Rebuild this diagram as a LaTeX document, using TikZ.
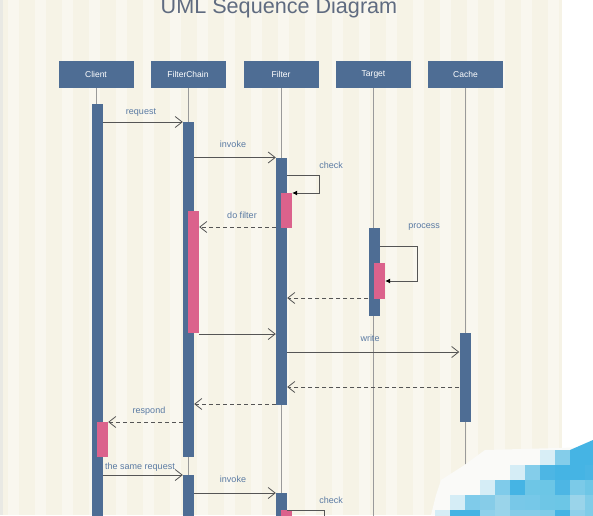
\documentclass[tikz,border=0pt]{standalone}
\usepackage{fontspec}
\setmainfont{Liberation Sans}
\usetikzlibrary{arrows.meta}
\definecolor{bgcream}{HTML}{F6F3E6}
\definecolor{bgstripe}{HTML}{F9F7EF}
\definecolor{bgedge}{HTML}{E9E9E4}
\definecolor{hdrblue}{HTML}{4E6D94}
\definecolor{actpink}{HTML}{DB628C}
\definecolor{lblblue}{HTML}{5A7AA3}
\definecolor{titlegray}{HTML}{5F6B80}
\definecolor{linegray}{HTML}{555555}
\definecolor{lifegray}{HTML}{9A9A9A}
\definecolor{wmwhite}{HTML}{FAFAF8}
\definecolor{wmblue}{HTML}{45B4E4}
\begin{document}
\begin{tikzpicture}[x=1pt,y=-1pt,
  hdr/.style={rectangle, fill=hdrblue, draw=none, minimum width=75pt, minimum height=27pt, inner sep=0pt, text=white, font=\fontsize{8.5}{10}\selectfont},
  actbar/.style={rectangle, fill=hdrblue, draw=none, minimum width=11pt, inner sep=0pt, anchor=north},
  actpinkbar/.style={rectangle, fill=actpink, draw=none, minimum width=11pt, inner sep=0pt, anchor=north},
  life/.style={draw=lifegray, line width=0.8pt},
  msg/.style={draw=linegray, line width=0.8pt, -{Straight Barb[length=7pt,width=11pt,line width=0.8pt]}},
  ret/.style={msg, dash pattern=on 4pt off 3pt},
  selfmsg/.style={draw=linegray, line width=0.8pt, -{Latex[length=5pt,width=5pt,fill=black,color=black]}},
  lbl/.style={text=lblblue, font=\fontsize{9}{10}\selectfont, inner sep=0pt, anchor=base},
]
\useasboundingbox (0,0) rectangle (593,515);
\begin{scope}
\clip (0,0) rectangle (593,515);
% background
\fill[white] (0,0) rectangle (593,515);
\fill[bgcream] (0,0) rectangle (562,515);
\foreach \i in {0,...,20} {
  \fill[bgstripe] (\i*27+8,0) rectangle ++(11,515);
}
\fill[bgedge] (0,0) rectangle (3,515);

% title
\node[text=titlegray, font=\fontsize{21.6}{24}\selectfont, anchor=base, inner sep=0pt] (title) at (279,13) {UML Sequence Diagram};

% header boxes
\node[hdr] (hcl) at (96,74.5) {Client};
\node[hdr] (hfc) at (188,74.5) {FilterChain};
\node[hdr] (hf)  at (281,74.5) {Filter};
\node[hdr] (ht)  at (373.5,74.5) {Target};
\node[hdr] (hc)  at (465.5,74.5) {Cache};

% lifelines
\draw[life] (hcl.south) -- (hcl.south |- 0,520);
\draw[life] (hfc.south) -- (hfc.south |- 0,520);
\draw[life] (hf.south)  -- (hf.south |- 0,520);
\draw[life] (ht.south)  -- (ht.south |- 0,520);
\draw[life] (hc.south)  -- (hc.south |- 0,520);

% activation bars
\node[actbar, minimum height=420pt] (clb) at (97,104) {};
\node[actbar, minimum height=335pt] (fcb1) at (188.5,122) {};
\node[actbar, minimum height=247pt] (fb1) at (281.5,157.5) {};
\node[actbar, minimum height=88pt] (tb) at (374,228) {};
\node[actbar, minimum height=89pt] (cb) at (465,333) {};
\node[actbar, minimum height=50pt] (fcb2) at (188.5,475) {};
\node[actbar, minimum height=30pt] (fb2) at (281.5,493) {};

\node[actpinkbar, minimum height=122pt] (fcp1) at (193.5,211) {};
\node[actpinkbar, minimum height=35pt] (fp1) at (286.5,193) {};
\node[actpinkbar, minimum height=36pt] (tp) at (379.5,263) {};
\node[actpinkbar, minimum height=35pt] (clp) at (102.5,422) {};
\node[actpinkbar, minimum height=20pt] (fp2) at (286.5,510) {};

% messages
\draw[msg] (clb.east |- 0,122) -- (fcb1.west |- 0,122);
\node[lbl] (lreq) at (141,114) {request};

\draw[msg] (fcb1.east |- 0,157.5) -- (fb1.west |- 0,157.5);
\node[lbl] (linv1) at (233,147) {invoke};

\coordinate (chkA) at (319,175);
\coordinate (chkB) at (319,193);
\draw[selfmsg] (fb1.east |- chkA) -- (chkA) -- (chkB) -- (fp1.east |- chkB);
\node[lbl] (lchk1) at (331,168) {check};

\draw[ret] (fb1.west |- 0,227) -- (fcp1.east |- 0,227);
\node[lbl] (ldof) at (242,218) {do filter};

\draw[msg] (fcp1.east |- 0,334) -- (fb1.west |- 0,334);

\coordinate (prA) at (417,246);
\coordinate (prB) at (417,281);
\draw[selfmsg] (tb.east |- prA) -- (prA) -- (prB) -- (tp.east |- prB);
\node[lbl] (lproc) at (424,228) {process};

\draw[ret] (tb.west |- 0,298) -- (fb1.east |- 0,298);

\draw[msg] (fb1.east |- 0,352) -- (cb.west |- 0,352);
\node[lbl] (lwrite) at (370,341) {write};

\draw[ret] (cb.west |- 0,387) -- (fb1.east |- 0,387);
\draw[ret] (fb1.west |- 0,404) -- (fcb1.east |- 0,404);

\draw[ret] (fcb1.west |- 0,422) -- (clp.east |- 0,422);
\node[lbl] (lresp) at (149,413) {respond};

\draw[msg] (clb.east |- 0,475) -- (fcb2.west |- 0,475);
\node[lbl] (lsame) at (140,469) {the same request};

\draw[msg] (fcb2.east |- 0,493) -- (fb2.west |- 0,493);
\node[lbl] (linv2) at (233,482) {invoke};

\coordinate (chkC) at (324,510);
\coordinate (chkD) at (324,530);
\draw[draw=linegray, line width=0.8pt] (fb2.east |- chkC) -- (chkC) -- (chkD);
\node[lbl] (lchk2) at (331,503) {check};

% watermark
\fill[wmwhite] (431,515) -- (436,495) -- (441,480) -- (463,466) -- (485,450) -- (593,447) -- (593,515) -- cycle;
\begin{scope}
\clip (431,520) -- (436,495) -- (441,480) -- (463,466) -- (485,450) -- (593,447) -- (600,520) -- cycle;
\foreach \cx/\cy/\cc in {
  540/450/D8EEF6, 555/450/84CDEA, 570/450/45B4E4, 585/450/45B4E4,
  510/465/D5EDF6, 525/465/84CDEA, 540/465/4DB6E4, 555/465/45B4E4, 570/465/45B4E4, 585/465/4AB5E4,
  480/480/D5EDF6, 495/480/7FCBEA, 510/480/45B4E4, 525/480/6EC6E6, 540/480/6CC6E6, 555/480/4DB6E4, 570/480/7BCAE8, 585/480/6EC6E6,
  450/495/D5EDF6, 465/495/7FCBEA, 480/495/86CCE8, 495/495/9AD4EA, 510/495/78C8E8, 525/495/76C8E8, 540/495/6EC6E6, 555/495/6CC6E6, 570/495/9AD4EA, 585/495/80CCE8,
  435/510/D5EDF6, 450/510/45B4E4, 465/510/45B4E4, 480/510/90D0EA, 495/510/9AD4EA, 510/510/86CCE8, 525/510/86CCE8, 540/510/80CCE8, 555/510/45B4E4, 570/510/90D0EA, 585/510/80CCE8} {
  \definecolor{wmc}{HTML}{\cc}
  \fill[wmc] (\cx,\cy) rectangle ++(15.3,15.3);
}
\end{scope}
\fill[wmblue] (570,450) -- (593,440) -- (593,450) -- cycle;
\end{scope}
\end{tikzpicture}
\end{document}
